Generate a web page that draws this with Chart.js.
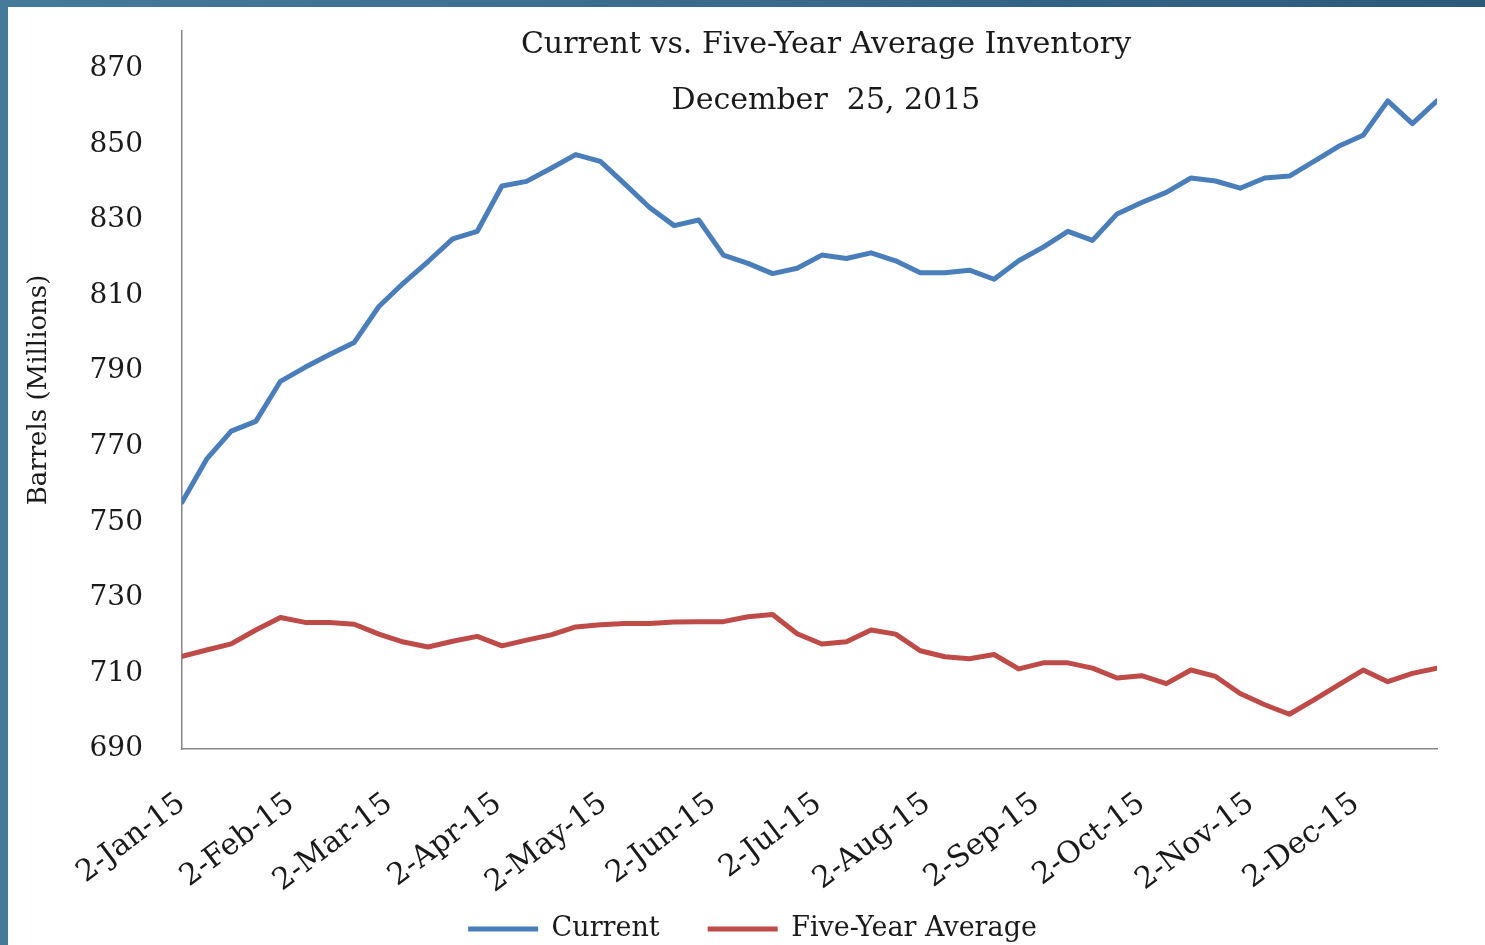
<!DOCTYPE html>
<html>
<head>
<meta charset="utf-8">
<title>Current vs. Five-Year Average Inventory</title>
<script src="https://cdn.jsdelivr.net/npm/chart.js@4.4.1/dist/chart.umd.min.js"></script>
<style>
    html, body {
        margin: 0;
        padding: 0;
    }
    body {
        width: 1485px;
        height: 945px;
        overflow: hidden;
        position: relative;
        background: linear-gradient(to right, #467a9b, #2c5a7b);
    }
    #panel {
        position: absolute;
        left: 8px;
        top: 7px;
        width: 1477px;
        height: 938px;
        background: #fff;
    }
    #grafico {
        position: absolute;
        left: 0;
        top: 0;
    }
    .titulo {
        position: absolute;
        left: 418px;
        width: 800px;
        text-align: center;
        font-family: 'DejaVu Serif', serif;
        font-size: 30px;
        line-height: 36px;
        color: #1a1a1a;
        white-space: pre;
    }
</style>
</head>
<body>
<div id="panel">
    <canvas id="grafico" width="1477" height="938"></canvas>
    <div class="titulo" style="top:18px">Current vs. Five-Year Average Inventory</div>
    <div class="titulo" style="top:74px">December  25, 2015</div>
</div>

<script>
// weekly report dates
const weekDates = [
    '2015-01-02', '2015-01-09', '2015-01-16', '2015-01-23', '2015-01-30',
    '2015-02-06', '2015-02-13', '2015-02-20', '2015-02-27',
    '2015-03-06', '2015-03-13', '2015-03-20', '2015-03-27',
    '2015-04-03', '2015-04-10', '2015-04-17', '2015-04-24',
    '2015-05-01', '2015-05-08', '2015-05-15', '2015-05-22', '2015-05-29',
    '2015-06-05', '2015-06-12', '2015-06-19', '2015-06-26',
    '2015-07-03', '2015-07-10', '2015-07-17', '2015-07-24', '2015-07-31',
    '2015-08-07', '2015-08-14', '2015-08-21', '2015-08-28',
    '2015-09-04', '2015-09-11', '2015-09-18', '2015-09-25',
    '2015-10-02', '2015-10-09', '2015-10-16', '2015-10-23', '2015-10-30',
    '2015-11-06', '2015-11-13', '2015-11-20', '2015-11-27',
    '2015-12-04', '2015-12-11', '2015-12-18', '2015-12-25'
];

// barrels, millions
const current = [
    755.3, 766.7, 774.1, 776.7, 787.3, 791.0, 794.4, 797.6, 807.1, 813.3,
    819.0, 825.0, 827.0, 839.0, 840.2, 843.7, 847.3, 845.5, 839.5, 833.3,
    828.5, 830.0, 820.7, 818.5, 815.8, 817.2, 820.7, 819.8, 821.3, 819.2,
    816.0, 816.0, 816.7, 814.3, 819.2, 822.8, 827.0, 824.6, 831.6, 834.6,
    837.3, 841.1, 840.3, 838.4, 841.1, 841.6, 845.5, 849.5, 852.4, 861.5,
    855.5, 861.5
];
const fiveYearAvg = [
    714.5, 716.2, 717.8, 721.5, 724.8, 723.5, 723.5, 723.0, 720.4, 718.3,
    717.0, 718.5, 719.8, 717.3, 718.8, 720.2, 722.3, 722.9, 723.2, 723.2,
    723.6, 723.7, 723.7, 725.0, 725.6, 720.5, 717.8, 718.4, 721.5, 720.4,
    716.0, 714.4, 713.9, 715.0, 711.2, 712.8, 712.8, 711.4, 708.8, 709.4,
    707.3, 710.9, 709.2, 704.7, 701.7, 699.2, 703.0, 707.0, 710.9, 707.8,
    710.0, 711.4
];

const tickDates = [
    '2015-01-02', '2015-02-02', '2015-03-02', '2015-04-02', '2015-05-02', '2015-06-02',
    '2015-07-02', '2015-08-02', '2015-09-02', '2015-10-02', '2015-11-02', '2015-12-02'
];
const tickLabels = [
    '2-Jan-15', '2-Feb-15', '2-Mar-15', '2-Apr-15', '2-May-15', '2-Jun-15',
    '2-Jul-15', '2-Aug-15', '2-Sep-15', '2-Oct-15', '2-Nov-15', '2-Dec-15'
];
const yTicks = [690, 710, 730, 750, 770, 790, 810, 830, 850, 870];

const fuente = "'DejaVu Serif', serif";
const dia0 = Date.parse(weekDates[0]);

function dias(fecha) {
    return (Date.parse(fecha) - dia0) / 86400000;
}

function serie(valores) {
    return valores.map((v, i) => ({ x: dias(weekDates[i]), y: v }));
}

function sinPadding(scale) {
    scale.paddingTop = 0;
    scale.paddingBottom = 0;
    scale.paddingLeft = 0;
    scale.paddingRight = 0;
}

const ctx = document.getElementById('grafico').getContext('2d');

new Chart(ctx, {
    type: 'line',
    data: {
        datasets: [
            {
                label: 'Current',
                data: serie(current),
                borderColor: '#4a7ebb',
                backgroundColor: '#4a7ebb',
                borderWidth: 5,
                pointRadius: 0,
                borderJoinStyle: 'round',
                borderCapStyle: 'round',
                tension: 0
            },
            {
                label: 'Five-Year Average',
                data: serie(fiveYearAvg),
                borderColor: '#be4b48',
                backgroundColor: '#be4b48',
                borderWidth: 5,
                pointRadius: 0,
                borderJoinStyle: 'round',
                borderCapStyle: 'round',
                tension: 0
            }
        ]
    },
    options: {
        responsive: false,
        animation: false,
        layout: {
            padding: { left: 60, right: 48, top: 24, bottom: -7.5 }
        },
        plugins: {
            legend: {
                position: 'bottom',
                labels: {
                    usePointStyle: true,
                    pointStyle: 'line',
                    pointStyleWidth: 70,
                    padding: 48,
                    color: '#1a1a1a',
                    font: { family: fuente, size: 27 }
                }
            },
            tooltip: { enabled: false }
        },
        scales: {
            x: {
                type: 'linear',
                min: 0,
                max: dias(weekDates[weekDates.length - 1]),
                grid: { display: false, drawTicks: false },
                border: { display: true, color: '#868686', width: 1.5 },
                afterBuildTicks: (scale) => {
                    scale.ticks = tickDates.map(d => ({ value: dias(d) }));
                },
                afterFit: (scale) => {
                    scale.height = 118.5;
                    sinPadding(scale);
                    // rotated labels run past the scale box, don't clip them
                    scale._computeLabelArea = () => undefined;
                },
                ticks: {
                    autoSkip: false,
                    minRotation: 37,
                    maxRotation: 37,
                    padding: 37,
                    color: '#1a1a1a',
                    font: { family: fuente, size: 30 },
                    callback: (value, index) => tickLabels[index]
                }
            },
            y: {
                min: 690,
                max: 880,
                grid: { display: false, drawTicks: false },
                border: { display: true, color: '#868686', width: 1.5 },
                afterBuildTicks: (scale) => {
                    scale.ticks = yTicks.map(v => ({ value: v }));
                },
                afterFit: (scale) => {
                    scale.width = 114;
                    sinPadding(scale);
                },
                ticks: {
                    padding: 39,
                    color: '#1a1a1a',
                    font: { family: fuente, size: 28 }
                },
                title: {
                    display: true,
                    text: 'Barrels (Millions)',
                    color: '#1a1a1a',
                    font: { family: fuente, size: 26 },
                    padding: { top: -44, bottom: 0 }
                }
            }
        }
    }
});
</script>
</body>
</html>
